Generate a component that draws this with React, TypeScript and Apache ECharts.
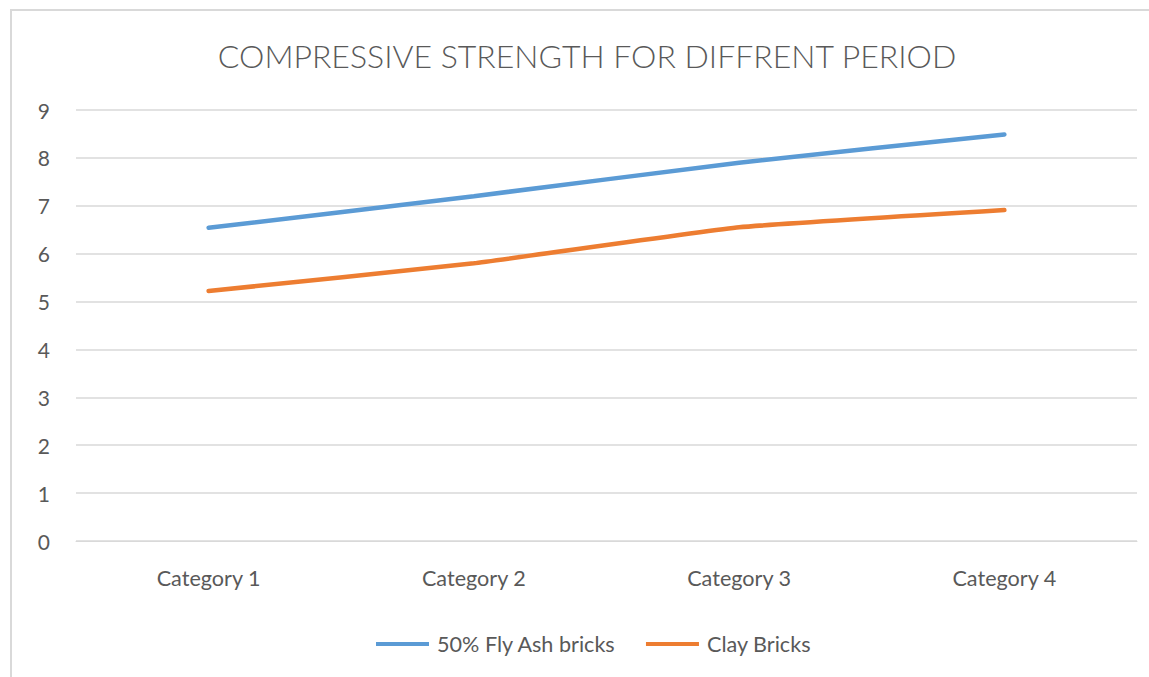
import React, { useEffect, useRef } from "react";
import * as echarts from "echarts";

const categories = ["Category 1", "Category 2", "Category 3", "Category 4"];
const flyAsh = [6.54, 7.2, 7.9, 8.49];
const clay = [5.22, 5.8, 6.55, 6.91];
const seriesNames = ["50% Fly Ash bricks", "Clay Bricks"];
const titleText = "COMPRESSIVE STRENGTH FOR DIFFRENT PERIOD";

const FONT = "Lato";
const TEXT = "#595959";

export default function App() {
  const ref = useRef<HTMLDivElement>(null);
  useEffect(() => {
    if (!ref.current) return;
    const chart = echarts.init(ref.current, null, { renderer: "svg" });
    chart.setOption({
      animation: false,
      backgroundColor: "#ffffff",
      title: {
        text: titleText,
        left: 582,
        textAlign: "center",
        top: 34,
        textStyle: { fontFamily: FONT, fontSize: 32, fontWeight: 300, color: TEXT },
      },
      graphic: [
        {
          type: "rect",
          shape: { x: 11, y: 10, width: 1160, height: 700 },
          style: { fill: "none", stroke: "#d9d9d9", lineWidth: 2 },
          silent: true,
        },
      ],
      legend: {
        bottom: 17,
        left: 371,
        itemWidth: 53,
        itemHeight: 4,
        itemGap: 30,
        icon: "rect",
        data: seriesNames,
        textStyle: { fontFamily: FONT, fontSize: 21.6, color: TEXT, padding: [0, 0, 0, 3] },
      },
      grid: { left: 76, right: 12, top: 110, bottom: 136 },
      xAxis: {
        type: "category",
        data: categories,
        boundaryGap: true,
        axisLine: { lineStyle: { color: "#d9d9d9" } },
        axisTick: { show: false },
        axisLabel: { fontFamily: FONT, fontSize: 21.6, color: TEXT, margin: 26 },
      },
      yAxis: {
        type: "value",
        min: 0,
        max: 9,
        interval: 1,
        axisLine: { show: false },
        axisTick: { show: false },
        axisLabel: { fontFamily: FONT, fontSize: 21, color: TEXT, margin: 26 },
        splitLine: { lineStyle: { color: "#d9d9d9", width: 1.5 } },
      },
      series: [
        {
          name: seriesNames[0],
          type: "line",
          data: flyAsh,
          symbol: "none",
          smooth: 0.1,
          itemStyle: { color: "#5b9bd5" },
          lineStyle: { color: "#5b9bd5", width: 4.5, cap: "round" },
        },
        {
          name: seriesNames[1],
          type: "line",
          data: clay,
          symbol: "none",
          smooth: 0.1,
          itemStyle: { color: "#ed7d31" },
          lineStyle: { color: "#ed7d31", width: 4.5, cap: "round" },
        },
      ],
    });
    return () => chart.dispose();
  }, []);
  return (
    <div
      ref={ref}
      style={{ position: "absolute", left: 0, top: 0, width: 1149, height: 677 }}
    />
  );
}
